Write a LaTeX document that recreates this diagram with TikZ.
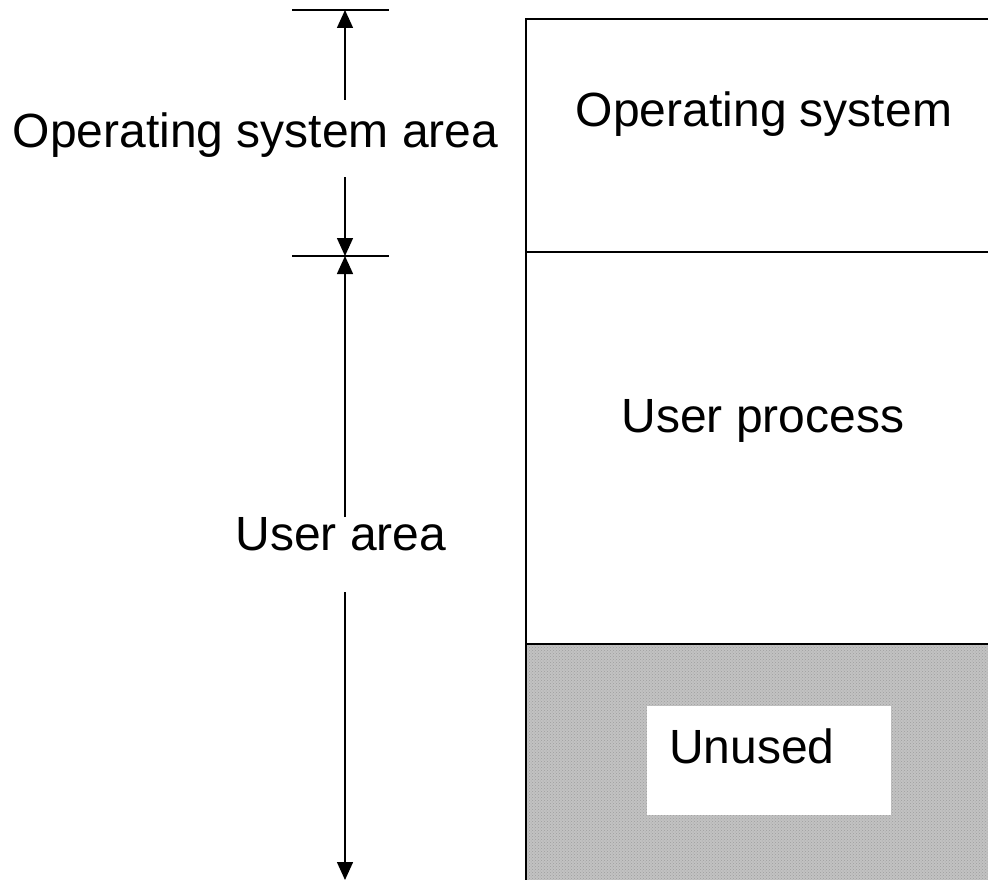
\documentclass[tikz,border=0pt]{standalone}
\usepackage{fontspec}
\setmainfont{Liberation Sans}
\usetikzlibrary{arrows.meta,patterns}

\begin{document}
\begin{tikzpicture}[x = 1pt, y = -1pt, line width = 2pt,
  big/.style = {font = \fontsize{48}{58}\selectfont, inner sep = 0pt, anchor = base},
  dim/.style = {line width = 1.5pt, -{Triangle[length = 18pt, width = 16pt]}}]
\useasboundingbox (0,0) rectangle (988,880);
\clip (0,0) rectangle (988,880);
% memory blocks
\fill[white!76!black] (526,644) rectangle (1010,900);
\fill[pattern = crosshatch dots, pattern color = white!62!black] (526,644) rectangle (1010,900);
\draw (1010,19) -- (526,19) -- (526,900);
\draw (526,252) -- (1010,252);
\draw (526,644) -- (1010,644);
\fill[white] (647,706) rectangle (891,815);
\node[big] (os) at (764,127) {Operating system};
\node[big] (proc) at (763,432) {User process};
\node[big, anchor = base west] (unused) at (668,763) {Unused};
% dimension lines
\coordinate (ostop) at (345,10);
\coordinate (osbot) at (345,256);
\coordinate (usrbot) at (345,880);
\draw ([xshift = -53pt]ostop) -- ([xshift = 44pt]ostop);
\draw ([xshift = -53pt]osbot) -- ([xshift = 44pt]osbot);
\node[big] (osarea) at (255.5,147) {Operating system area};
\node[big] (usrarea) at (341,550) {User area};
\coordinate (g1) at (345,100);
\coordinate (g2) at (345,177);
\coordinate (g3) at (345,517);
\coordinate (g4) at (345,592);
\draw[dim] (g1) -- (ostop);
\draw[dim] (g2) -- (osbot);
\draw[dim] (g3) -- (osbot);
\draw[dim] (g4) -- (usrbot);
\end{tikzpicture}
\end{document}
